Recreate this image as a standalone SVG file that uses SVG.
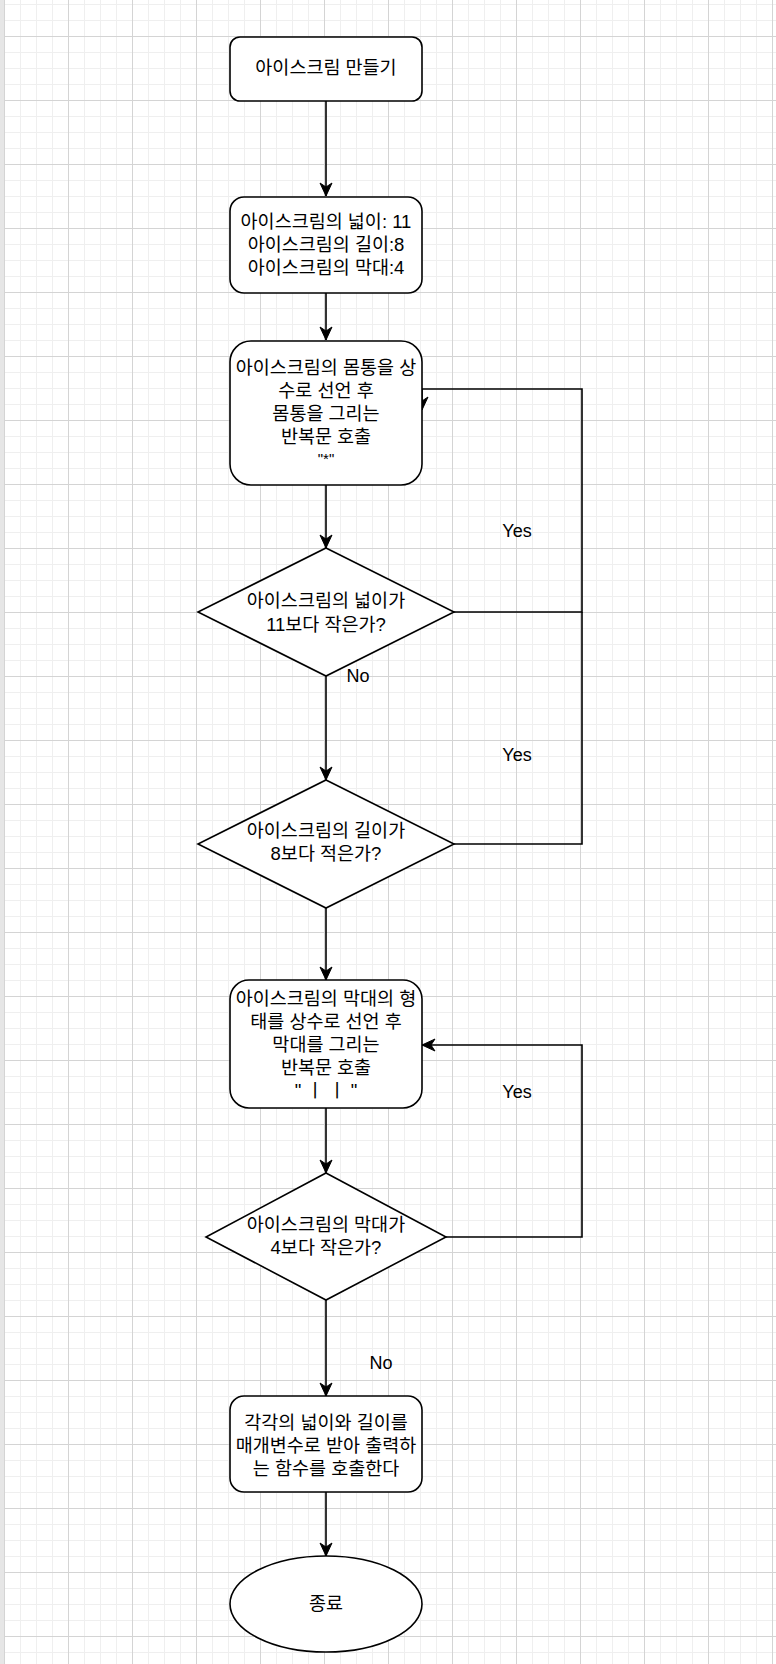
<svg xmlns="http://www.w3.org/2000/svg" width="776" height="1664" viewBox="0 0 776 1664">
  <style>
    .node { fill: #ffffff; stroke: #000000; stroke-width: 1.6; }
    .edge { fill: none; stroke: #000000; stroke-width: 1.6; }
    .label { font-family: "Liberation Sans", "Noto Sans CJK KR", sans-serif; font-size: 18.5px; fill: #000000; text-anchor: middle; dominant-baseline: central; }
    .small { font-size: 15px; }
    .edgelabel { font-family: "Liberation Sans", "Noto Sans CJK KR", sans-serif; font-size: 18px; fill: #000000; text-anchor: middle; dominant-baseline: central; }
  </style>
  <defs>
    <pattern id="grid" x="4" y="4" width="64" height="64" patternUnits="userSpaceOnUse">
      <rect x="0" y="0" width="64" height="64" fill="#ffffff"/>
      <g fill="#efefef">
        <rect x="16" y="0" width="1" height="64"/>
        <rect x="32" y="0" width="1" height="64"/>
        <rect x="48" y="0" width="1" height="64"/>
        <rect x="0" y="0" width="64" height="1"/>
        <rect x="0" y="16" width="64" height="1"/>
        <rect x="0" y="48" width="64" height="1"/>
      </g>
      <g fill="#d4d4d4">
        <rect x="0" y="0" width="1" height="64"/>
        <rect x="0" y="32" width="64" height="1"/>
      </g>
    </pattern>
    <marker id="arrow" viewBox="-14 -7 16 14" refX="0" refY="0" markerWidth="16" markerHeight="14" markerUnits="userSpaceOnUse" orient="auto">
      <path d="M-13,-6 L0,0 L-13,6 L-9,0 Z" fill="#000000" stroke="#000000" stroke-width="1"/>
    </marker>
  </defs>

  <!-- canvas -->
  <rect x="0" y="0" width="776" height="1664" fill="url(#grid)"/>
  <rect x="0" y="0" width="4" height="1664" fill="#e6e6e6"/>

  <!-- connectors -->
  <g id="connectors">
    <path class="edge" d="M326,101 L326,196" marker-end="url(#arrow)"/>
    <path class="edge" d="M326,293 L326,340" marker-end="url(#arrow)"/>
    <path class="edge" d="M326,485 L326,548" marker-end="url(#arrow)"/>
    <path class="edge" d="M326,676 L326,780" marker-end="url(#arrow)"/>
    <path class="edge" d="M454,612 L582,612 L582,389 L422,389 L422,410" marker-end="url(#arrow)"/>
    <path class="edge" d="M454,844 L582,844 L582,612"/>
    <path class="edge" d="M326,908 L326,980" marker-end="url(#arrow)"/>
    <path class="edge" d="M326,1108 L326,1173" marker-end="url(#arrow)"/>
    <path class="edge" d="M446,1237 L582,1237 L582,1045 L422,1045" marker-end="url(#arrow)"/>
    <path class="edge" d="M326,1300 L326,1396" marker-end="url(#arrow)"/>
    <path class="edge" d="M326,1492 L326,1556" marker-end="url(#arrow)"/>
    <text class="edgelabel" x="517" y="531">Yes</text>
    <text class="edgelabel" x="358" y="676">No</text>
    <text class="edgelabel" x="517" y="755">Yes</text>
    <text class="edgelabel" x="517" y="1092">Yes</text>
    <text class="edgelabel" x="381" y="1363">No</text>
  </g>

  <g id="start">
    <rect class="node" x="230" y="37" width="192" height="64" rx="10" ry="10"/>
    <text class="label" x="326" y="67">아이스크림 만들기</text>
  </g>

  <g id="init">
    <rect class="node" x="230" y="197" width="192" height="96" rx="14" ry="14"/>
    <text class="label" x="326" y="221">아이스크림의 넓이: 11</text>
    <text class="label" x="326" y="244">아이스크림의 길이:8</text>
    <text class="label" x="326" y="267">아이스크림의 막대:4</text>
  </g>

  <g id="body-loop">
    <rect class="node" x="230" y="341" width="192" height="144" rx="21" ry="21"/>
    <text class="label" x="326" y="367">아이스크림의 몸통을 상</text>
    <text class="label" x="326" y="390">수로 선언 후</text>
    <text class="label" x="326" y="413">몸통을 그리는</text>
    <text class="label" x="326" y="436">반복문 호출</text>
    <text class="label small" x="326" y="458">"*"</text>
  </g>

  <g id="width-check">
    <polygon class="node" points="326,548 454,612 326,676 198,612"/>
    <text class="label" x="326" y="600">아이스크림의 넓이가</text>
    <text class="label" x="326" y="624">11보다 작은가?</text>
  </g>

  <g id="length-check">
    <polygon class="node" points="326,780 454,844 326,908 198,844"/>
    <text class="label" x="326" y="830">아이스크림의 길이가</text>
    <text class="label" x="326" y="853">8보다 적은가?</text>
  </g>

  <g id="stick-loop">
    <rect class="node" x="230" y="980" width="192" height="128" rx="19" ry="19"/>
    <text class="label" x="326" y="998">아이스크림의 막대의 형</text>
    <text class="label" x="326" y="1021">태를 상수로 선언 후</text>
    <text class="label" x="326" y="1044">막대를 그리는</text>
    <text class="label" x="326" y="1067">반복문 호출</text>
    <text class="label" x="326" y="1090">" ㅣ ㅣ "</text>
  </g>

  <g id="stick-check">
    <polygon class="node" points="326,1173 446,1237 326,1300 206,1237"/>
    <text class="label" x="326" y="1224">아이스크림의 막대가</text>
    <text class="label" x="326" y="1247">4보다 작은가?</text>
  </g>

  <g id="print-call">
    <rect class="node" x="230" y="1396" width="192" height="96" rx="14" ry="14"/>
    <text class="label" x="326" y="1422">각각의 넓이와 길이를</text>
    <text class="label" x="326" y="1445">매개변수로 받아 출력하</text>
    <text class="label" x="326" y="1468">는 함수를 호출한다</text>
  </g>

  <g id="end">
    <ellipse class="node" cx="326" cy="1604" rx="96" ry="48"/>
    <text class="label" x="326" y="1603">종료</text>
  </g>
</svg>
